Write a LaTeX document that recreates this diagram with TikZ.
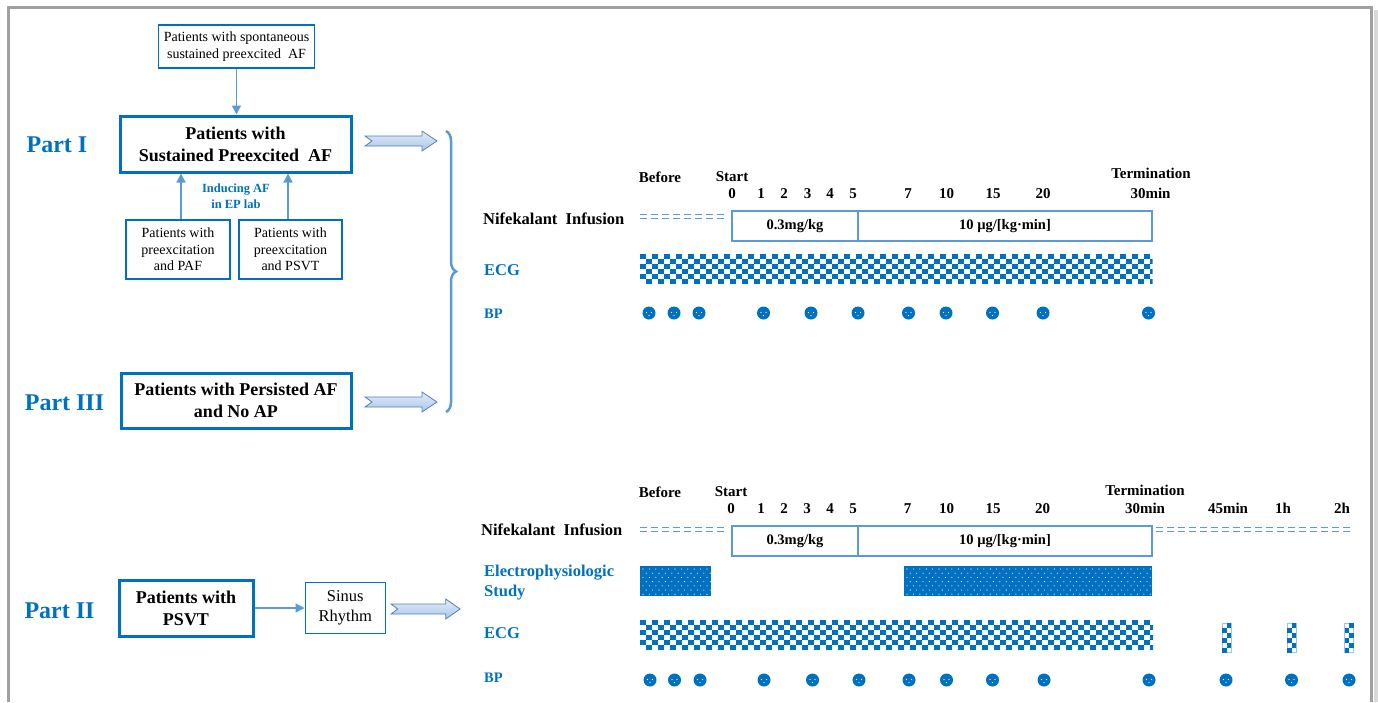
\documentclass[tikz,border=0pt]{standalone}
\usepackage{fontspec}
\setmainfont{Liberation Serif}
\usetikzlibrary{arrows.meta,positioning,decorations.pathreplacing}

\definecolor{partblue}{HTML}{0070C0}
\definecolor{lightblue}{HTML}{5B9BD5}
\definecolor{framegray}{HTML}{A0A0A0}
\definecolor{arrowedge}{HTML}{4F81BD}
\definecolor{arrowtop}{HTML}{E3ECF7}
\definecolor{arrowbot}{HTML}{A9C5E8}

% checker bar for the ECG rows: left, top, right
\newcommand{\ecgbar}[3]{%
  \begin{scope}
    \clip (#1,#2) rectangle (#3,#2+30);
    \foreach \r in {0,...,5}
      \foreach \c in {0,2,...,86}
        \fill[partblue] ({#1+(\c+mod(\r,2))*6},{#2+\r*5}) rectangle ++(6,5);
  \end{scope}}
% short ECG strips after termination: left, top
\newcommand{\ecgstrip}[2]{%
  \draw[lightblue!60, line width=0.8pt] (#1,#2) rectangle ++(9,29);
  \foreach \r in {0,...,5}
    \fill[partblue] ({#1+mod(\r+1,2)*4.5},{#2+\r*5}) rectangle ++(4.5,5);}
% dotted block for the EP study: left, top, right, bottom
\newcommand{\epblock}[4]{%
  \fill[partblue] (#1,#2) rectangle (#3,#4);
  \begin{scope}
    \clip (#1,#2) rectangle (#3,#4);
    \foreach \r in {0,...,6}
      \foreach \c in {0,...,39}
        \fill[white] ({#1+3+\c*6.4+mod(\r,2)*3.2},{#2+3+\r*4.2}) circle (0.55);
  \end{scope}}

\begin{document}
\begin{tikzpicture}[x=1pt,y=-1pt,
    partlabel/.style={text=partblue, font=\fontsize{24}{28}\selectfont\bfseries},
    mainbox/.style={draw=partblue, line width=3pt, align=center, inner sep=2pt, font=\fontsize{18}{22}\selectfont\bfseries},
    smallbox/.style={draw=partblue, line width=1.6pt, align=center, inner sep=2pt, font=\fontsize{14}{16.5}\selectfont},
    flow/.style={draw=lightblue, line width=1.3pt, -{Triangle[length=9pt,width=9pt]}},
    note/.style={text=partblue, align=center, font=\fontsize{12.5}{15.5}\selectfont\bfseries},
    timelab/.style={font=\fontsize{15}{17}\selectfont\bfseries, text height=10pt, text depth=0pt, inner sep=0pt},
    rowname/.style={anchor=west, inner sep=0pt, font=\fontsize{16.5}{20}\selectfont\bfseries},
    bluename/.style={rowname, text=partblue},
    dosebox/.style={draw=lightblue, line width=2.2pt, font=\fontsize{14.5}{17}\selectfont\bfseries, minimum height=30},
    predash/.style={lightblue, line width=1.6pt, dash pattern=on 7pt off 4pt},
    blockarr/.pic={\draw[draw=arrowedge, line width=0.8pt, top color=arrowtop, bottom color=arrowbot]
      (0,-5) -- (57,-5) -- (57,-10) -- (72,0) -- (57,10) -- (57,5) -- (0,5) -- (7,0) -- cycle;},
    bpdot/.pic={\fill[partblue] (0,0) circle (6.5);
      \fill[white] (-2.5,-0.5) circle (0.7) (2.5,-0.5) circle (0.7) (0,2.5) circle (0.7);}
  ]
\useasboundingbox (0,0) rectangle (1378,702);

% frame
\fill[black!15] (1373.5,10) rectangle (1378,702);
\draw[framegray, line width=3pt] (8.3,702) -- (8.3,7.7) -- (1371.7,7.7) -- (1371.7,702);

% Part I
\node[partlabel] (part1) at (57,145) {Part I};
\node[smallbox, minimum width=156, minimum height=43] (spont) at (236.5,46.5) {Patients with spontaneous\\sustained preexcited\ \ AF};
\node[mainbox, minimum width=231, minimum height=56] (sustained) at (235.5,144) {Patients with\\Sustained Preexcited\ \ AF};
\node[smallbox, minimum width=104, minimum height=59] (paf) at (178,249.5) {Patients with\\preexcitation\\and PAF};
\node[smallbox, minimum width=103, minimum height=59] (psvtpre) at (290.5,249.5) {Patients with\\preexcitation\\and PSVT};
\node[note] (inducing) at (236,196) {Inducing AF\\in EP lab};
\draw[flow] (spont.south) -- (spont.south |- sustained.north);
\draw[flow] ([xshift=3pt]paf.north) -- ([xshift=3pt]paf.north |- sustained.south);
\draw[flow] ([xshift=-2.5pt]psvtpre.north) -- ([xshift=-2.5pt]psvtpre.north |- sustained.south);

% Part III
\node[partlabel] (part3) at (64.5,402.5) {Part III};
\node[mainbox, minimum width=230, minimum height=55] (persist) at (236,400.5) {Patients with Persisted AF\\and No AP};

% Part II
\node[partlabel] (part2) at (59.5,610.5) {Part II};
\node[mainbox, minimum width=134, minimum height=56] (psvt) at (186,608) {Patients with\\PSVT};
\node[smallbox, font=\fontsize{16.5}{20.5}\selectfont, minimum width=80, minimum height=51, right=50pt of psvt] (sinus) {Sinus\\Rhythm};
\draw[flow] (psvt) -- (sinus);

% block arrows and brace
\pic at (365,141) {blockarr};
\pic at (365,402) {blockarr};
\pic[xscale=0.96] at (391,609) {blockarr};
\coordinate (bracetop) at (446,131);
\coordinate (bracebot) at (446,412);
\draw[lightblue, line width=2.5pt, decorate, decoration={brace, amplitude=10pt}] (bracetop) -- (bracebot);

% timeline, Part I and III
\node[timelab] (before1) at (660,177) {Before};
\node[timelab] (start1) at (732,176) {Start};
\node[timelab] (term1) at (1151,173) {Termination};
\foreach \x/\t in {732/0,761/1,784/2,807.5/3,830/4,853/5,908/7,946.5/10,993/15,1043/20,1150.5/30min}
  \node[timelab] (a\t) at (\x,193) {\t};
\node[rowname] (infusion1) at (483,219) {Nifekalant\ \ Infusion};
\draw[predash] (640,214.5) -- (728,214.5);
\draw[predash] (640,218.5) -- (728,218.5);
\node[dosebox, minimum width=126] (load1) at (795,226) {0.3mg/kg};
\node[dosebox, minimum width=294] (maint1) at (1005,226) {10 µg/[kg·min]};
\node[bluename] (ecg1) at (484,270) {ECG};
\ecgbar{640}{254}{1152.5}
\node[bluename, font=\fontsize{14.5}{17}\selectfont\bfseries] (bp1) at (484,314) {BP};
\foreach \x in {649,674,699,763.5,811,858,908.5,946,992.5,1043,1148.5}
  \pic at (\x,313) {bpdot};

% timeline, Part II
\node[timelab] (before2) at (660,492) {Before};
\node[timelab] (start2) at (731,491) {Start};
\node[timelab] (term2) at (1145,490) {Termination};
\foreach \x/\t in {731/0,761/1,784/2,807/3,830/4,853/5,907.5/7,946.5/10,993/15,1042.5/20,1145/30min,1228/45min,1283/1h,1342/2h}
  \node[timelab] (b\t) at (\x,508) {\t};
\node[rowname] (infusion2) at (481,530) {Nifekalant\ \ Infusion};
\draw[predash] (640,527.5) -- (728,527.5);
\draw[predash] (640,531.5) -- (728,531.5);
\draw[predash] (1156,527.5) -- (1352,527.5);
\draw[predash] (1156,531.5) -- (1352,531.5);
\node[dosebox, minimum width=126] (load2) at (795,541) {0.3mg/kg};
\node[dosebox, minimum width=294] (maint2) at (1005,541) {10 µg/[kg·min]};
\node[bluename, align=left] (eps) at (484,582.5) {Electrophysiologic\\Study};
\epblock{640}{566}{711}{596}
\epblock{904}{566}{1151.5}{596}
\node[bluename] (ecg2) at (484,633) {ECG};
\ecgbar{640}{620}{1153}
\ecgstrip{1222}{623}
\ecgstrip{1287}{623}
\ecgstrip{1344.5}{623}
\node[bluename, font=\fontsize{14.5}{17}\selectfont\bfseries] (bp2) at (484,678) {BP};
\foreach \x in {650,674.5,700,764,812.5,859,909,946.5,992.5,1044,1149,1226,1291.5,1349}
  \pic at (\x,680) {bpdot};
\end{tikzpicture}
\end{document}
